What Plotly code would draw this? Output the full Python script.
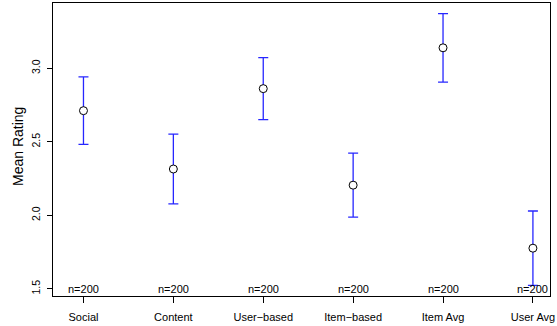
import plotly.graph_objects as go

categories = ["Social", "Content", "User\u2212based", "Item\u2212based", "Item Avg", "User Avg"]
means = [2.712, 2.315, 2.862, 2.205, 3.140, 1.776]
ci_half = [0.230, 0.237, 0.211, 0.218, 0.233, 0.253]
n_labels = ["n=200"] * 6
y_title = "Mean Rating"

xpos = list(range(1, len(categories) + 1))

fig = go.Figure()
fig.add_trace(go.Scatter(
    x=xpos, y=means, mode="markers",
    marker=dict(symbol="circle", size=8, color="white",
                line=dict(color="black", width=1)),
    error_y=dict(type="data", array=ci_half, visible=True,
                 color="rgba(0,0,255,0.85)", thickness=1.3, width=5),
    showlegend=False, hoverinfo="skip",
))

for xp, lab in zip(xpos, n_labels):
    fig.add_annotation(x=xp, y=0, xref="x", yref="paper", text=lab,
                       showarrow=False, yanchor="bottom", yshift=-1,
                       font=dict(size=11, color="black"))

fig.add_annotation(x=0, y=0.5, xref="paper", yref="paper", text=y_title,
                   showarrow=False, textangle=-90, xanchor="center",
                   yanchor="middle", xshift=-35.5, yshift=3,
                   font=dict(size=14, color="black"))

font_family = "Liberation Sans, Arial, Helvetica, sans-serif"
fig.update_layout(
    width=557, height=326,
    margin=dict(l=53, r=5, t=2, b=30),
    paper_bgcolor="white", plot_bgcolor="white",
    font=dict(family=font_family, color="black", size=10),
    xaxis=dict(range=[0.661, 6.19], tickvals=xpos, ticktext=categories,
               showgrid=False, zeroline=False, showline=True, mirror=True,
               linecolor="black", linewidth=1, ticks="outside", ticklen=6,
               tickcolor="black", tickfont=dict(size=11),
               ticklabelstandoff=5, ticklabeloverflow="allow"),
    yaxis=dict(range=[1.4505, 3.445], tickvals=[1.5, 2.0, 2.5, 3.0],
               ticktext=["1.5", "2.0", "2.5", "3.0"], tickangle=-90,
               showgrid=False, zeroline=False, showline=True, mirror=True,
               linecolor="black", linewidth=1, ticks="outside", ticklen=5,
               tickcolor="black", tickfont=dict(size=10.5),
               ticklabelstandoff=3),
)

fig.write_html("out.html", config={"displayModeBar": False},
               post_script="document.body.style.margin='0';document.body.style.overflow='hidden';")
